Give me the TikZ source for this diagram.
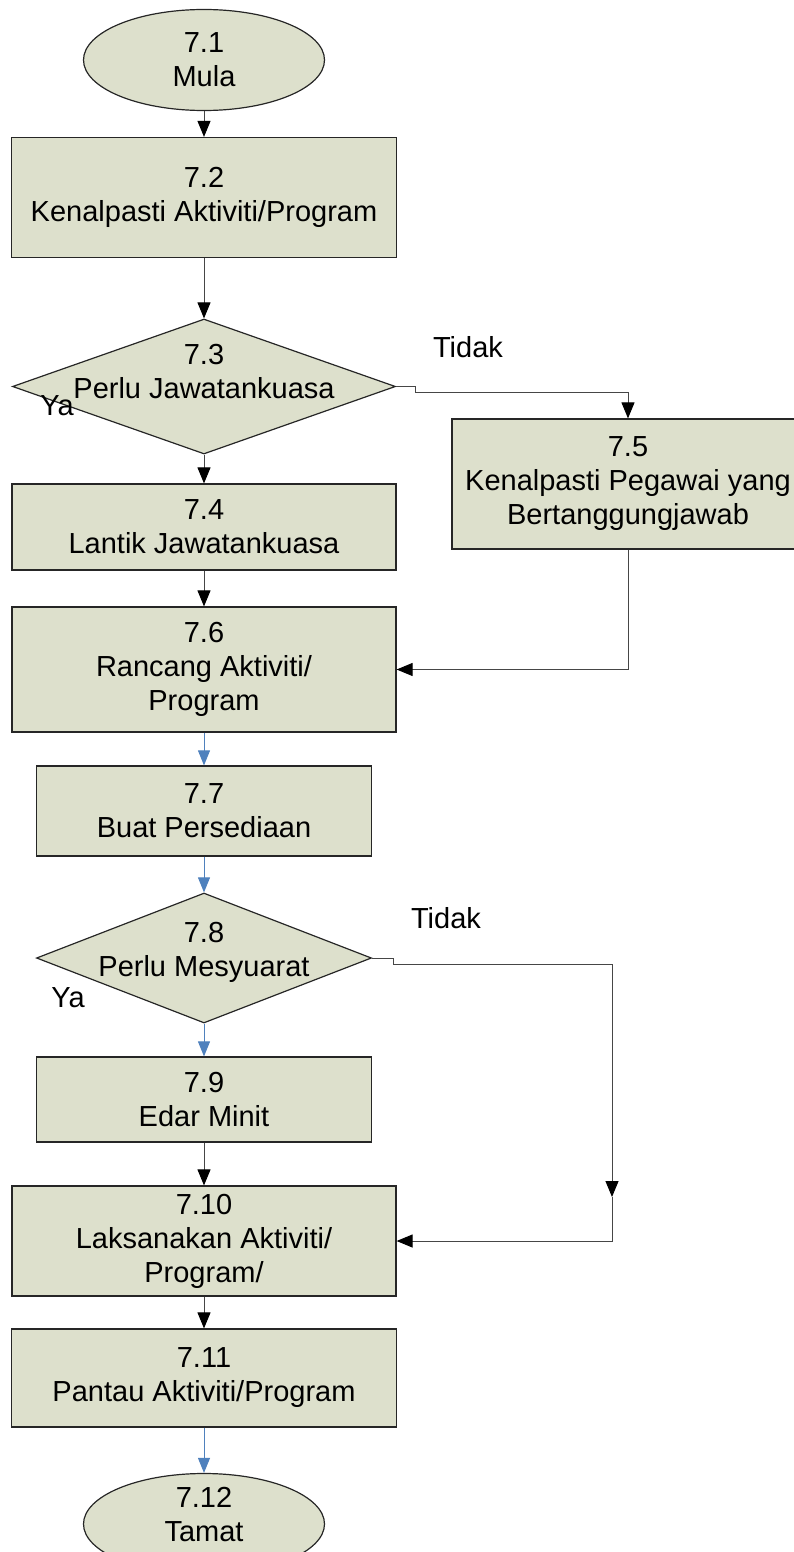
\documentclass[tikz,border=0pt]{standalone}
\usepackage{fontspec}
\setmainfont{Liberation Sans}
\usetikzlibrary{shapes.geometric,arrows.meta}

\definecolor{mkhaki}{RGB}{221,224,204}
\definecolor{mblue}{RGB}{79,129,189}
\definecolor{mline}{RGB}{70,70,70}
\newcommand*{\colBox}{mkhaki}
\newcommand*{\colFlow}{mline}
\newcommand*{\colAlt}{mblue}
\newcommand*{\txtFont}{\fontsize{29}{34}\selectfont}

\tikzset{
    stepbox/.style={rectangle, draw=black!85, line width=1.2pt, fill=\colBox,
        align=center, inner sep=0pt, font=\txtFont},
    endbox/.style={ellipse, draw=black!85, line width=1.2pt, fill=\colBox,
        align=center, inner sep=0pt, font=\txtFont,
        minimum width=241pt, minimum height=101pt},
    askbox/.style={diamond, draw=black!85, line width=1.2pt, fill=\colBox,
        inner sep=0pt},
    asktext/.style={align=center, font=\txtFont},
    note/.style={font=\txtFont, inner sep=0pt},
    flow/.style={draw=\colFlow, line width=1pt,
        -{Triangle[length=16pt,width=13pt,color=black]}},
    flowblue/.style={draw=\colAlt, line width=1pt,
        -{Triangle[length=15pt,width=12pt,color=\colAlt]}}
}

\begin{document}
\begin{tikzpicture}[x=1pt, y=-1pt]

    \useasboundingbox (0,0) rectangle (793,1552);

    % steps
    \node [endbox] (s71) at (204,60) {7.1\\Mula};
    \node [stepbox, minimum width=385pt, minimum height=120pt] (b72) at (204,197.5) {7.2\\Kenalpasti Aktiviti/Program};
    \node [askbox, minimum width=383pt, minimum height=135pt,
        label={[asktext, yshift=15pt]center:7.3\\Perlu Jawatankuasa}] (d73) at (204,386.5) {};
    \node [stepbox, minimum width=384pt, minimum height=86pt] (b74) at (204,527) {7.4\\Lantik Jawatankuasa};
    \node [stepbox, minimum width=352pt, minimum height=130pt] (b75) at (628,484) {7.5\\Kenalpasti Pegawai yang\\Bertanggungjawab};
    \node [stepbox, minimum width=384pt, minimum height=125pt] (b76) at (204,669.5) {7.6\\Rancang Aktiviti/\\Program};
    \node [stepbox, minimum width=335pt, minimum height=90pt] (b77) at (204,811) {7.7\\Buat Persediaan};
    \node [askbox, minimum width=335pt, minimum height=130pt,
        label={[asktext, yshift=6pt]center:7.8\\Perlu Mesyuarat}] (d78) at (204,958) {};
    \node [stepbox, minimum width=335pt, minimum height=85pt] (b79) at (204,1099.5) {7.9\\Edar Minit};
    \node [stepbox, minimum width=384pt, minimum height=110pt] (b710) at (204,1241) {7.10\\Laksanakan Aktiviti/\\Program/};
    \node [stepbox, minimum width=385pt, minimum height=98pt] (b711) at (204,1378) {7.11\\Pantau Aktiviti/Program};
    \node [endbox, label={[asktext, yshift=10pt]center:7.12\\Tamat}] (s712) at (204,1524) {};

    % answers
    \node [note] (ya3) at (57,406) {Ya};
    \node [note] (tidak3) at (468,347) {Tidak};
    \node [note] (tidak8) at (446,918) {Tidak};
    \node [note] (ya8) at (68,998) {Ya};

    \coordinate (bend8) at (612,1197);

    % connectors
    \path [flow] (s71.south) -- (b72.north);
    \path [flow] (b72.south) -- (d73.north);
    \path [flow] (d73.south) -- (b74.north);
    \path [flow] (d73.east) -- ++(19,0) -- ++(0,6) -| (b75.north);
    \path [flow] (b74.south) -- (b76.north);
    \path [flow] (b75.south) |- (b76.east);
    \path [flowblue] (b76.south) -- (b77.north);
    \path [flowblue] (b77.south) -- (d78.north);
    \path [flowblue] (d78.south) -- (b79.north);
    \path [flow] (d78.east) -- ++(21,0) -- ++(0,6) -| (bend8);
    \path [flow] (bend8) |- (b710.east);
    \path [flow] (b79.south) -- (b710.north);
    \path [flow] (b710.south) -- (b711.north);
    \path [flowblue] (b711.south) -- (s712.north);

\end{tikzpicture}
\end{document}
